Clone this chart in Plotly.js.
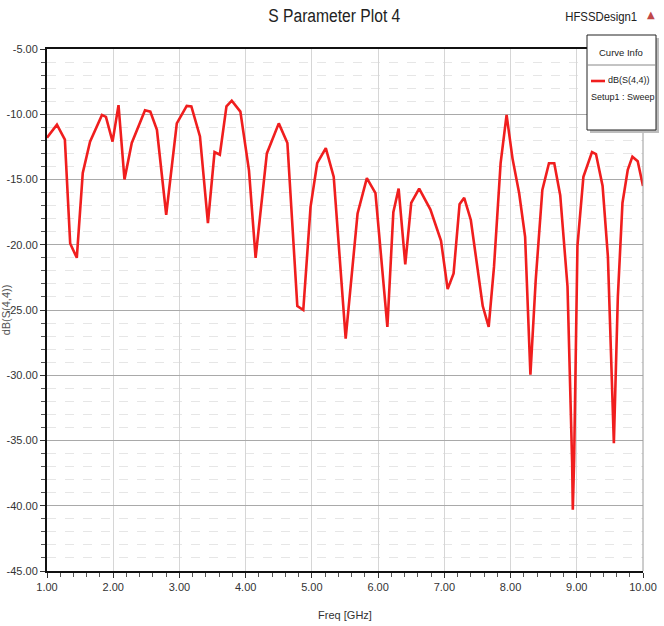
<!DOCTYPE html>
<html>
<head>
<meta charset="utf-8">
<script src="https://cdn.plot.ly/plotly-3.0.1.min.js"></script>
<style>
  html, body { margin: 0; padding: 0; background: #ffffff; }
  #chart { width: 664px; height: 626px; }
</style>
</head>
<body>
<div id="chart"></div>
<script>
// ---- data ----
const freqGHz = [1.00, 1.15, 1.27, 1.35, 1.45, 1.54, 1.65, 1.83, 1.89, 1.99,
  2.08, 2.17, 2.28, 2.48, 2.56, 2.66, 2.80, 2.96, 3.11, 3.18,
  3.31, 3.43, 3.53, 3.61, 3.71, 3.79, 3.92, 4.05, 4.15, 4.32,
  4.50, 4.63, 4.78, 4.87, 4.98, 5.08, 5.21, 5.33, 5.51, 5.69,
  5.83, 5.96, 6.14, 6.23, 6.31, 6.41, 6.50, 6.62, 6.79, 6.95,
  7.05, 7.14, 7.23, 7.30, 7.40, 7.58, 7.67, 7.75, 7.85, 7.94,
  8.03, 8.13, 8.22, 8.30, 8.38, 8.48, 8.58, 8.66, 8.75, 8.86,
  8.93, 8.94, 8.96, 9.01, 9.10, 9.23, 9.29, 9.39, 9.47, 9.56,
  9.62, 9.69, 9.77, 9.84, 9.92, 10.00];
const dbS44 = [-11.8, -10.8, -11.95, -19.9, -21.0, -14.5, -12.1, -10.05, -10.2, -12.1,
  -9.3, -15.0, -12.2, -9.7, -9.8, -11.2, -17.7, -10.7, -9.36, -9.4,
  -11.7, -18.35, -12.9, -13.1, -9.4, -8.96, -9.8, -14.3, -21.0, -13.0,
  -10.7, -12.2, -24.7, -25.0, -17.1, -13.75, -12.6, -14.8, -27.2, -17.6,
  -14.9, -16.05, -26.3, -17.5, -15.7, -21.5, -16.8, -15.7, -17.3, -19.7,
  -23.4, -22.2, -16.9, -16.4, -18.1, -24.7, -26.3, -21.7, -13.75, -10.05,
  -13.4, -16.05, -19.4, -29.96, -22.7, -15.8, -13.75, -13.75, -16.2, -23.2,
  -36.7, -40.3, -36.5, -20.1, -14.8, -12.9, -13.05, -15.5, -20.9, -35.2,
  -24.0, -16.8, -14.26, -13.25, -13.6, -15.5];
const xTickVals = [1, 2, 3, 4, 5, 6, 7, 8, 9, 10];
const xTickText = ["1.00", "2.00", "3.00", "4.00", "5.00", "6.00", "7.00", "8.00", "9.00", "10.00"];
const yTickVals = [-5, -10, -15, -20, -25, -30, -35, -40, -45];
const yTickText = ["-5.00", "-10.00", "-15.00", "-20.00", "-25.00", "-30.00", "-35.00", "-40.00", "-45.00"];
const traceName = "dB(S(4,4))";
const setupName = "Setup1 : Sweep";
const designName = "HFSSDesign1";
const chartTitle = "S Parameter Plot 4";
const legendHeader = "Curve Info";

const FONT = "Liberation Sans Narrow, Arial Narrow, Liberation Sans, Arial, sans-serif";

// plot area in pixels: left 47, right 643, top 49, bottom 571
const W = 664, H = 626, L = 47, R = 643, T = 49, B = 571;
const px = x => (x - L) / (R - L);
const py = y => (B - y) / (B - T);

const trace = {
  x: freqGHz, y: dbS44, type: 'scatter', mode: 'lines', name: traceName,
  line: { color: '#f01e1e', width: 2.6 }, showlegend: false, hoverinfo: 'x+y'
};

const layout = {
  width: W, height: H,
  margin: { l: L, r: W - R, t: T, b: H - B, pad: 0 },
  paper_bgcolor: '#ffffff', plot_bgcolor: '#ffffff',
  font: { family: FONT, color: '#333333', size: 11 },
  showlegend: false,
  title: {
    text: chartTitle, font: { family: FONT, size: 18, color: '#222222' },
    x: 0.482, xanchor: 'center', y: 1 - 16 / H, yanchor: 'middle', xref: 'paper'
  },
  xaxis: {
    range: [1, 10], tickmode: 'array', tickvals: xTickVals, ticktext: xTickText,
    showline: true, linecolor: '#111111', linewidth: 2, mirror: true,
    ticks: 'outside', ticklen: 5, tickcolor: '#333333', tickwidth: 1,
    showgrid: true, gridcolor: '#d6d6d6', gridwidth: 1,
    minor: { dtick: 0.2, tick0: 1, ticks: 'outside', ticklen: 4, tickcolor: '#555555', showgrid: false },
    zeroline: false, fixedrange: true,
    tickfont: { family: FONT, size: 11, color: '#333333' },
    title: { text: 'Freq [GHz]', font: { family: FONT, size: 11, color: '#333333' }, standoff: 19 },
    automargin: false
  },
  yaxis: {
    range: [-45, -5], tickmode: 'array', tickvals: yTickVals, ticktext: yTickText,
    showline: true, linecolor: '#111111', linewidth: 2, mirror: false,
    ticks: 'outside', ticklen: 5, tickcolor: '#333333', tickwidth: 1,
    showgrid: true, gridcolor: '#a9a9a9', gridwidth: 1,
    minor: { dtick: 1, tick0: -45, ticks: 'outside', ticklen: 4, tickcolor: '#555555',
             showgrid: true, gridcolor: '#e6e6e6', griddash: 'dash', gridwidth: 1 },
    zeroline: false, fixedrange: true,
    tickfont: { family: FONT, size: 11, color: '#333333' },
    title: { text: traceName, font: { family: FONT, size: 11, color: '#555555' }, standoff: 8 },
    automargin: false
  },
  shapes: [
    // right plot border (thin gray)
    { type: 'line', xref: 'paper', yref: 'paper', x0: 1, x1: 1, y0: 0, y1: 1,
      line: { color: '#9a9a9a', width: 1 }, layer: 'above' },
    // legend shadow
    { type: 'rect', xref: 'paper', yref: 'paper', x0: px(590), x1: px(659), y0: py(133), y1: py(38),
      fillcolor: '#bdbdbd', line: { width: 0 }, layer: 'above' },
    // legend box
    { type: 'rect', xref: 'paper', yref: 'paper', x0: px(587), x1: px(656), y0: py(130), y1: py(35),
      fillcolor: '#ffffff', line: { color: '#222222', width: 1 }, layer: 'above' },
    // header separator
    { type: 'line', xref: 'paper', yref: 'paper', x0: px(587), x1: px(656), y0: py(65), y1: py(65),
      line: { color: '#888888', width: 1 }, layer: 'above' },
    // legend sample line
    { type: 'line', xref: 'paper', yref: 'paper', x0: px(591), x1: px(605), y0: py(81), y1: py(81),
      line: { color: '#f01e1e', width: 2.6 }, layer: 'above' }
  ],
  annotations: [
    { text: designName, xref: 'paper', yref: 'paper', x: px(601), y: py(17), xanchor: 'center', yanchor: 'middle',
      showarrow: false, font: { family: FONT, size: 13, color: '#222222' } },
    { text: '▲', xref: 'paper', yref: 'paper', x: px(651), y: py(15), xanchor: 'center', yanchor: 'middle',
      showarrow: false, font: { family: 'DejaVu Sans', size: 10, color: '#c04848' } },
    { text: legendHeader, xref: 'paper', yref: 'paper', x: px(621), y: py(52), xanchor: 'center', yanchor: 'middle',
      showarrow: false, font: { family: FONT, size: 9.5, color: '#222222' } },
    { text: traceName, xref: 'paper', yref: 'paper', x: px(652), y: py(80), xanchor: 'right', yanchor: 'middle',
      showarrow: false, font: { family: FONT, size: 9, color: '#222222' } },
    { text: setupName, xref: 'paper', yref: 'paper', x: px(589), y: py(97), xanchor: 'left', yanchor: 'middle',
      showarrow: false, font: { family: FONT, size: 9, color: '#222222' } }
  ]
};

// narrow-font look for the title texts: compress them to the widths seen in the reference
const fitWidths = {};
fitWidths[chartTitle] = 132;
fitWidths[designName] = 72;

Plotly.newPlot('chart', [trace], layout, { staticPlot: true, displayModeBar: false }).then(gd => {
  gd.querySelectorAll('text').forEach(t => {
    if (t.classList.contains('ytitle') || t.classList.contains('xtitle')) return;
    const key = (t.textContent || '').replace(/\u00a0/g, ' ').trim();
    const w = fitWidths[key];
    if (w) {
      t.setAttribute('textLength', w);
      t.setAttribute('lengthAdjust', 'spacingAndGlyphs');
    }
  });
});
</script>
</body>
</html>
